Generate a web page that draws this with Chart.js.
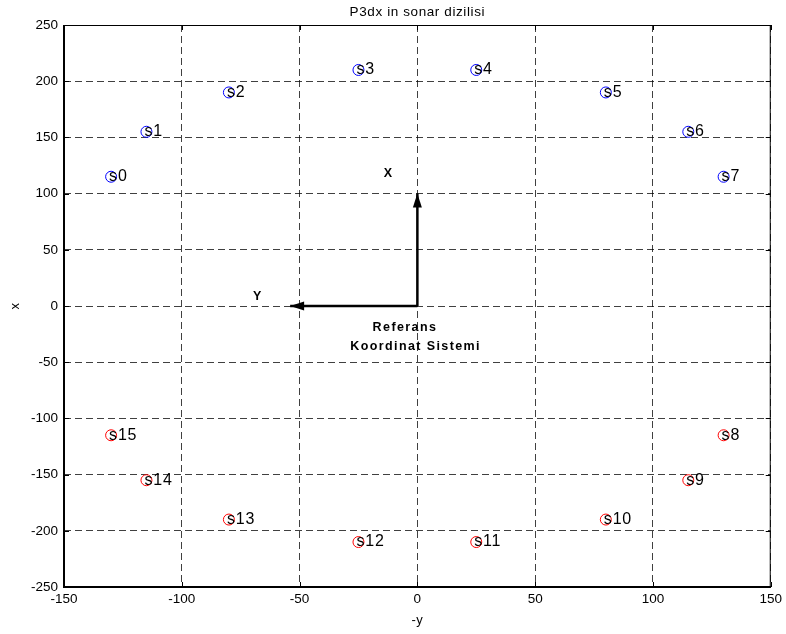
<!DOCTYPE html>
<html lang="tr">
<head>
  <meta charset="UTF-8">
  <title>P3dx in sonar dizilisi</title>
  <script src="https://cdn.jsdelivr.net/npm/chart.js"></script>
  <style>
    body { margin: 0; background: #fff; }
    #wrap { width: 786px; height: 634px; }
  </style>
</head>
<body>
  <div id="wrap"><canvas id="sonarChart" width="786" height="634"></canvas></div>

  <script>
    // sonar konumlari (yatay eksen: -y, dikey eksen: x)
    var frontNames = ['s0', 's1', 's2', 's3', 's4', 's5', 's6', 's7'];
    var frontNegY = [-130, -115, -80, -25, 25, 80, 115, 130];
    var frontX = [115, 155, 190, 210, 210, 190, 155, 115];

    var rearNames = ['s8', 's9', 's10', 's11', 's12', 's13', 's14', 's15'];
    var rearNegY = [130, 115, 80, 25, -25, -80, -115, -130];
    var rearX = [-115, -155, -190, -210, -210, -190, -155, -115];

    // referans koordinat sistemi oklari
    var arrowXNegY = [0, 0];
    var arrowXx = [0, 100];
    var arrowYNegY = [0, -54];
    var arrowYx = [0, 0];

    // yazilar
    var noteTexts = ['X', 'Y', 'Referans', 'Koordinat Sistemi'];
    var noteNegY = [-12.5, -68, -19, -28.5];
    var noteX = [118, 8, -19, -36];

    var xTicks = [-150, -100, -50, 0, 50, 100, 150];
    var yTicks = [-250, -200, -150, -100, -50, 0, 50, 100, 150, 200, 250];

    function toPoints(xs, ys) {
      return xs.map(function (v, i) { return { x: v, y: ys[i] }; });
    }

    var font = "'Liberation Sans', Arial, sans-serif";

    function spacing(ctx, px) {
      if ('letterSpacing' in ctx) ctx.letterSpacing = px + 'px';
    }

    var extrasPlugin = {
      id: 'extras',
      afterDatasetsDraw: function (chart) {
        var ctx = chart.ctx;
        var xs = chart.scales.x, ys = chart.scales.y;
        var area = chart.chartArea;
        ctx.save();

        // kutu ve ic tikler
        ctx.strokeStyle = '#000';
        ctx.lineWidth = 1;
        ctx.strokeRect(area.left + 0.5, area.top + 0.5, area.width - 1, area.height - 1);
        ctx.beginPath();
        xTicks.forEach(function (t) {
          var px = Math.round(xs.getPixelForValue(t)) + 0.5;
          ctx.moveTo(px, area.bottom); ctx.lineTo(px, area.bottom - 5);
          ctx.moveTo(px, area.top); ctx.lineTo(px, area.top + 5);
        });
        yTicks.forEach(function (t) {
          var py = Math.round(ys.getPixelForValue(t)) + 0.5;
          ctx.moveTo(area.left, py); ctx.lineTo(area.left + 5, py);
          ctx.moveTo(area.right, py); ctx.lineTo(area.right - 5, py);
        });
        ctx.stroke();
        ctx.lineWidth = 2;
        ctx.beginPath();
        ctx.moveTo(area.left, area.top); ctx.lineTo(area.left, area.bottom); ctx.lineTo(area.right, area.bottom);
        ctx.stroke();

        // ok uclari
        ctx.fillStyle = '#000';
        var tipX = xs.getPixelForValue(arrowXNegY[1]), tipY = ys.getPixelForValue(arrowXx[1]);
        ctx.beginPath();
        ctx.moveTo(tipX, tipY);
        ctx.lineTo(tipX - 4.5, tipY + 14);
        ctx.lineTo(tipX + 4.5, tipY + 14);
        ctx.closePath();
        ctx.fill();
        tipX = xs.getPixelForValue(arrowYNegY[1]); tipY = ys.getPixelForValue(arrowYx[1]);
        ctx.beginPath();
        ctx.moveTo(tipX, tipY);
        ctx.lineTo(tipX + 14, tipY - 4.5);
        ctx.lineTo(tipX + 14, tipY + 4.5);
        ctx.closePath();
        ctx.fill();

        // sonar etiketleri
        ctx.fillStyle = '#000';
        ctx.font = '16px ' + font;
        ctx.textAlign = 'left';
        ctx.textBaseline = 'middle';
        spacing(ctx, 0.8);
        frontNames.forEach(function (n, i) {
          ctx.fillText(n, xs.getPixelForValue(frontNegY[i]) - 2, ys.getPixelForValue(frontX[i]));
        });
        rearNames.forEach(function (n, i) {
          ctx.fillText(n, xs.getPixelForValue(rearNegY[i]) - 2, ys.getPixelForValue(rearX[i]));
        });

        // referans yazilari
        ctx.font = 'bold 12.5px ' + font;
        noteTexts.forEach(function (n, i) {
          var px = xs.getPixelForValue(noteNegY[i]);
          var py = ys.getPixelForValue(noteX[i]);
          ctx.textAlign = i < 2 ? 'center' : 'left';
          spacing(ctx, i < 2 ? 0 : 1.4);
          ctx.fillText(n, px, py);
        });

        // baslik ve eksen adlari
        ctx.font = '13.5px ' + font;
        ctx.textAlign = 'center';
        spacing(ctx, 0.6);
        ctx.fillText('P3dx in sonar dizilisi', (area.left + area.right) / 2, 12);
        spacing(ctx, 0.5);
        ctx.font = '13px ' + font;
        ctx.fillText('-y', (area.left + area.right) / 2, 620);
        ctx.translate(15, (area.top + area.bottom) / 2);
        ctx.rotate(-Math.PI / 2);
        ctx.fillText('x', 0, 0);
        ctx.restore();
      }
    };

    var ctx = document.getElementById('sonarChart').getContext('2d');
    var sonarChart = new Chart(ctx, {
      type: 'scatter',
      data: {
        datasets: [{
          label: 'on sonarlar',
          data: toPoints(frontNegY, frontX),
          borderColor: '#0000ff',
          backgroundColor: 'rgba(0,0,0,0)',
          pointStyle: 'circle',
          pointRadius: 5.5,
          borderWidth: 1
        }, {
          label: 'arka sonarlar',
          data: toPoints(rearNegY, rearX),
          borderColor: '#ff0000',
          backgroundColor: 'rgba(0,0,0,0)',
          pointStyle: 'circle',
          pointRadius: 5.5,
          borderWidth: 1
        }, {
          label: 'X oku',
          data: toPoints(arrowXNegY, arrowXx),
          showLine: true,
          borderColor: '#000',
          borderWidth: 2.5,
          pointRadius: 0
        }, {
          label: 'Y oku',
          data: toPoints(arrowYNegY, arrowYx),
          showLine: true,
          borderColor: '#000',
          borderWidth: 2.5,
          pointRadius: 0
        }]
      },
      options: {
        responsive: false,
        animation: false,
        events: [],
        layout: { padding: { left: 0, right: 11, top: 25, bottom: 0 } },
        plugins: {
          legend: { display: false },
          tooltip: { enabled: false },
          title: { display: false }
        },
        scales: {
          x: {
            type: 'linear',
            min: -150,
            max: 150,
            afterFit: function (s) { s.height = 47; },
            afterBuildTicks: function (s) { s.ticks = xTicks.map(function (v) { return { value: v }; }); },
            ticks: { color: '#000', font: { family: font, size: 13.5 }, padding: 4 },
            grid: { color: 'rgba(0,0,0,0.75)', drawTicks: false },
            border: { display: false, dash: [7, 4] }
          },
          y: {
            type: 'linear',
            min: -250,
            max: 250,
            afterFit: function (s) { s.width = 64; },
            afterBuildTicks: function (s) { s.ticks = yTicks.map(function (v) { return { value: v }; }); },
            ticks: { color: '#000', font: { family: font, size: 13.5 }, padding: 6 },
            grid: { color: 'rgba(0,0,0,0.75)', drawTicks: false },
            border: { display: false, dash: [7, 4] }
          }
        }
      },
      plugins: [extrasPlugin]
    });
  </script>
</body>
</html>
